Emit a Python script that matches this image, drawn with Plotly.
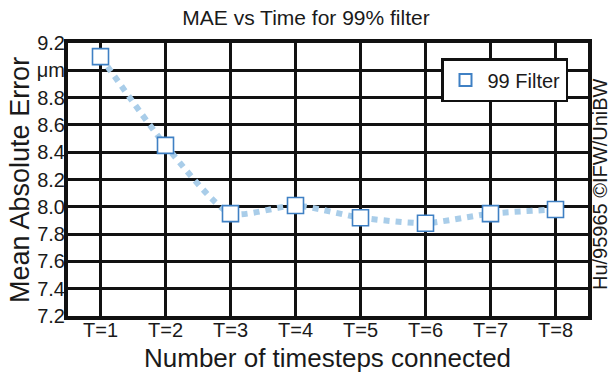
import plotly.graph_objects as go

categories = ["T=1", "T=2", "T=3", "T=4", "T=5", "T=6", "T=7", "T=8"]
mae_99 = [9.10, 8.45, 7.95, 8.01, 7.92, 7.88, 7.95, 7.98]
y_tick_vals = [7.2, 7.4, 7.6, 7.8, 8.0, 8.2, 8.4, 8.6, 8.8, 9.0, 9.2]
y_tick_text = ["7.2", "7.4", "7.6", "7.8", "8.0", "8.2", "8.4", "8.6", "8.8", "μm", "9.2"]

xpos = list(range(1, len(categories) + 1))
FONT = "Liberation Sans, Arial, sans-serif"

L, R, T, B = 68, 24, 43, 56
W, H = 612, 372
PW, PH = W - L - R, H - T - B

fig = go.Figure()
fig.add_trace(go.Scatter(
    x=xpos, y=mae_99, mode="lines", showlegend=False,
    line=dict(color="#a9cde9", width=6, dash="dot", shape="spline", smoothing=0.6),
    hoverinfo="skip",
))
fig.add_trace(go.Scatter(
    x=xpos, y=mae_99, mode="markers", name="99 Filter",
    marker=dict(symbol="square", size=16, color="white",
                line=dict(color="#3f80c4", width=1.6)),
))

fig.update_layout(
    width=W, height=H,
    margin=dict(l=L, r=R, t=T, b=B, autoexpand=False),
    paper_bgcolor="white", plot_bgcolor="white",
    font=dict(family=FONT, color="#1a1a1a"),
    title=dict(text="MAE vs Time for 99% filter", x=0.5, xanchor="center",
               y=0.952, yanchor="middle", font=dict(size=21, family=FONT)),
    xaxis=dict(range=[0.5, 8.5], tickvals=xpos, ticktext=categories,
               showgrid=True, gridcolor="#111", gridwidth=3,
               showline=True, linecolor="#111", linewidth=4, mirror=True,
               zeroline=False, ticks="", tickfont=dict(size=20), automargin=False,
               ticklabelstandoff=-7),
    yaxis=dict(range=[7.2, 9.2], tickvals=y_tick_vals, ticktext=y_tick_text,
               showgrid=True, gridcolor="#111", gridwidth=3,
               showline=True, linecolor="#111", linewidth=4, mirror=True,
               zeroline=False, ticks="", tickfont=dict(size=20), automargin=False,
               ticklabelstandoff=-5),
    legend=dict(x=(568 - L) / PW, y=(H - B - 58) / PH, xanchor="right", yanchor="top",
                bgcolor="white", bordercolor="#111", borderwidth=2.5,
                font=dict(size=20, family=FONT), itemsizing="constant", itemwidth=34),
)

# axis titles
fig.add_annotation(text="Number of timesteps connected", xref="paper", yref="paper",
                   x=(327 - L) / PW, y=-(358 - (H - B)) / PH, xanchor="center", yanchor="middle",
                   showarrow=False, font=dict(size=26, family=FONT))
fig.add_annotation(text="Mean Absolute Error", xref="paper", yref="paper",
                   x=-(L - 20) / PW, y=(H - B - 180) / PH, xanchor="center", yanchor="middle",
                   textangle=-90, showarrow=False, font=dict(size=27, family=FONT))

fig.add_annotation(text="Hu/95965 ©IFW/UniBW", xref="paper", yref="paper",
                   x=(600 - L) / PW, y=(H - B - 184) / PH, xanchor="center", yanchor="middle",
                   textangle=-90, showarrow=False, font=dict(size=20, family=FONT))

fig.write_html("out.html", config={"displayModeBar": False},
               post_script="document.body.style.margin='0';document.body.style.padding='0';")
